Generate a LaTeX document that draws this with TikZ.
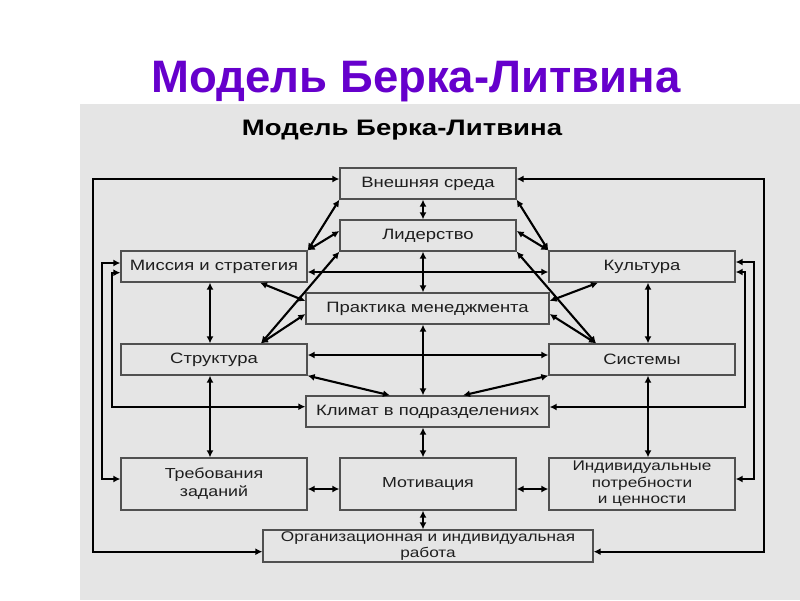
\documentclass[tikz,border=0pt]{standalone}
\usepackage{fontspec}
\setmainfont{Liberation Sans}
\newfontfamily\dfont{Liberation Sans}[FakeStretch=1.23]
\usetikzlibrary{arrows.meta}
\definecolor{paneltone}{RGB}{229,229,229}
\definecolor{titleviolet}{RGB}{102,0,204}
\definecolor{boxedge}{RGB}{80,80,80}
\definecolor{inktone}{RGB}{30,30,30}
\begin{document}
\begin{tikzpicture}[x=1pt,y=-1pt,
 blk/.style={draw=boxedge, line width=1.3pt, fill=paneltone, inner sep=0pt, minimum height=31pt, text=inktone, font=\dfont\fontsize{15}{17}\selectfont, align=center},
 blktwo/.style={blk, font=\dfont\fontsize{14.5}{18}\selectfont, minimum height=52pt},
 blkthree/.style={blk, font=\dfont\fontsize{14}{16.5}\selectfont, minimum height=52pt},
 link/.style={line width=2.1pt, {Latex[length=7pt,width=7pt]}-{Latex[length=7pt,width=7pt]}},
]
\useasboundingbox (0,0) rectangle (800,600);
\fill[white] (0,0) rectangle (800,600);
\fill[paneltone] (80,104) rectangle (800,600);
\node[font=\bfseries\fontsize{45.5}{50}\selectfont, text=titleviolet, anchor=base, inner sep=0pt] (title) at (416,92) {Модель Берка-Литвина};
\node[font=\dfont\bfseries\fontsize{22.4}{26}\selectfont, anchor=base, inner sep=0pt] (subtitle) at (402,135) {Модель Берка-Литвина};

\node[blk, minimum width=176pt] (ext) at (428,183.5) {Внешняя среда};
\node[blk, minimum width=176pt] (lead) at (428,235.5) {Лидерство};
\node[blk, minimum width=186pt] (miss) at (214,266.5) {Миссия и стратегия};
\node[blk, minimum width=186pt] (cult) at (642,266.5) {Культура};
\node[blk, minimum width=243pt] (prac) at (427.5,308.5) {Практика менеджмента};
\node[blk, minimum width=186pt] (struc) at (214,359.5) {Структура};
\node[blk, minimum width=186pt] (sys) at (642,359.5) {Системы};
\node[blk, minimum width=243pt] (clim) at (427.5,411.5) {Климат в подразделениях};
\node[blktwo, minimum width=186pt] (req) at (214,484) {Требования\\заданий};
\node[blktwo, minimum width=176pt] (mot) at (428,484) {Мотивация};
\node[blkthree, minimum width=186pt] (indiv) at (642,484) {Индивидуальные\\потребности\\и ценности};
\node[blkthree, minimum width=330pt, minimum height=32pt] (work) at (428,546) {Организационная и индивидуальная\\работа};

\coordinate (L1) at (93,300);
\coordinate (L2) at (102,300);
\coordinate (L3) at (112,300);
\coordinate (R1) at (764,300);
\coordinate (R2) at (754,300);
\coordinate (R3) at (745,300);

% outer loops
\draw[link] ([yshift=4.5pt]ext.west) -| (L1) |- ([yshift=-5.7pt]work.west);
\draw[link] ([yshift=3.5pt]miss.west) -| (L2) |- ([yshift=5pt]req.west);
\draw[link] ([yshift=-6.2pt]miss.west) -| (L3) |- ([yshift=4.8pt]clim.west);
\draw[link] ([yshift=4.5pt]ext.east) -| (R1) |- ([yshift=-5.7pt]work.east);
\draw[link] ([yshift=4.5pt]cult.east) -| (R2) |- ([yshift=5pt]indiv.east);
\draw[link] ([yshift=-5.5pt]cult.east) -| (R3) |- ([yshift=4.5pt]clim.east);

% verticals
\draw[link] ([xshift=-5pt]ext.south) -- ([xshift=-5pt]lead.north);
\draw[link] ([xshift=-5pt]lead.south) -- ([xshift=-4.5pt]prac.north);
\draw[link] ([xshift=-4.5pt]prac.south) -- ([xshift=-4.5pt]clim.north);
\draw[link] ([xshift=-4.5pt]clim.south) -- ([xshift=-5pt]mot.north);
\draw[link] ([xshift=-5pt]mot.south) -- ([xshift=-5pt]work.north);
\draw[link] ([xshift=-4pt]miss.south) -- ([xshift=-4pt]struc.north);
\draw[link] ([xshift=-4pt]struc.south) -- ([xshift=-4pt]req.north);
\draw[link] ([xshift=6pt]cult.south) -- ([xshift=6pt]sys.north);
\draw[link] ([xshift=6pt]sys.south) -- ([xshift=6pt]indiv.north);

% horizontals
\draw[link] ([yshift=-5.5pt]miss.east) -- ([yshift=-5.5pt]cult.west);
\draw[link] ([yshift=4.5pt]struc.east) -- ([yshift=4.5pt]sys.west);
\draw[link] ([yshift=-5pt]req.east) -- ([yshift=-5pt]mot.west);
\draw[link] ([yshift=-5pt]mot.east) -- ([yshift=-5pt]indiv.west);

% diagonals
\draw[link] (miss.north east) -- (ext.south west);
\draw[link] (miss.north east) -- ([yshift=4.5pt]lead.west);
\draw[link] ([xshift=47pt]struc.north) -- (lead.south west);
\draw[link] ([xshift=47pt]struc.north) -- ([yshift=-5.5pt]prac.west);
\draw[link] ([xshift=46pt]miss.south) -- ([yshift=7.5pt]prac.west);
\draw[link] (cult.north west) -- (ext.south east);
\draw[link] (cult.north west) -- ([yshift=4.5pt]lead.east);
\draw[link] ([xshift=-46pt]sys.north) -- (lead.south east);
\draw[link] ([xshift=-46pt]sys.north) -- ([yshift=-5.5pt]prac.east);
\draw[link] ([yshift=7.5pt]prac.east) -- ([xshift=-44pt]cult.south);
\draw[link] (struc.south east) -- ([xshift=-37.5pt]clim.north);
\draw[link] (sys.south west) -- ([xshift=35.5pt]clim.north);
\end{tikzpicture}
\end{document}
